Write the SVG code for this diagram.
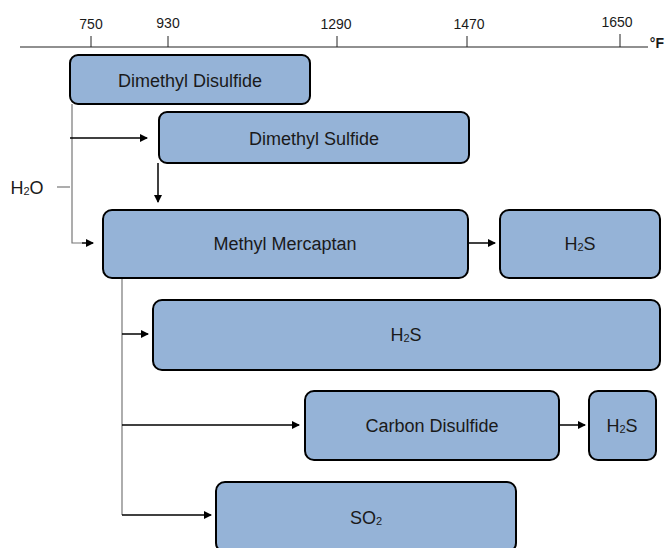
<svg xmlns="http://www.w3.org/2000/svg" width="665" height="548" viewBox="0 0 665 548">
<style>
.box{fill:#95b3d7;stroke:#000;stroke-width:2}
.lbl{font-family:"Liberation Sans",Arial,sans-serif;font-size:18px;fill:#1a1a1a;text-anchor:middle}
.ax{font-family:"Liberation Sans",Arial,sans-serif;font-size:14px;fill:#1a1a1a;text-anchor:middle}
.sub{font-size:11px}
.c{stroke:#000;stroke-width:1.5;fill:none}
.g{stroke:#777;stroke-width:1.2;fill:none}
</style>
<defs>
<marker id="ah" markerWidth="8" markerHeight="8" refX="7" refY="4" orient="auto" markerUnits="userSpaceOnUse">
<path d="M0,0 L8,4 L0,8 Z" fill="#000"/>
</marker>
</defs>
<rect width="665" height="548" fill="#fff"/>
<g id="axis">
<line x1="20" y1="47" x2="648" y2="47" stroke="#222" stroke-width="1.2"/>
<g stroke="#222" stroke-width="1">
<line x1="91" y1="36" x2="91" y2="47"/>
<line x1="168" y1="36" x2="168" y2="47"/>
<line x1="337" y1="36" x2="337" y2="47"/>
<line x1="467" y1="36" x2="467" y2="47"/>
<line x1="620" y1="34" x2="620" y2="47"/>
</g>
<text class="ax" x="91" y="29">750</text>
<text class="ax" x="168" y="28">930</text>
<text class="ax" x="336" y="29">1290</text>
<text class="ax" x="469" y="29">1470</text>
<text class="ax" x="617" y="27">1650</text>
<text class="ax" x="664" y="48" font-weight="bold" style="text-anchor:end">°F</text>
</g>
<g id="connectors">
<polyline class="g" points="72,104 72,243 82,243"/>
<line class="c" x1="82" y1="243" x2="93" y2="243" marker-end="url(#ah)"/>
<line class="c" x1="70" y1="138" x2="147" y2="138" marker-end="url(#ah)"/>
<line class="g" x1="57" y1="187" x2="70" y2="187"/>
<line class="c" x1="158" y1="163" x2="158" y2="202" marker-end="url(#ah)"/>
<line class="c" x1="468" y1="243" x2="495" y2="243" marker-end="url(#ah)"/>
<line class="g" x1="122" y1="278" x2="122" y2="515"/>
<line class="c" x1="122" y1="334" x2="148" y2="334" marker-end="url(#ah)"/>
<line class="c" x1="122" y1="425" x2="299" y2="425" marker-end="url(#ah)"/>
<line class="c" x1="122" y1="515" x2="211" y2="515" marker-end="url(#ah)"/>
<line class="c" x1="559" y1="425" x2="585" y2="425" marker-end="url(#ah)"/>
</g>
<g id="h2o"><text class="lbl" x="27" y="194">H<tspan class="sub" dy="1">2</tspan><tspan dy="-1">O</tspan></text></g>
<g id="dmds"><rect class="box" x="70" y="55" width="240" height="49" rx="8"/><text class="lbl" x="190" y="87">Dimethyl Disulfide</text></g>
<g id="dms"><rect class="box" x="159" y="112" width="310" height="51" rx="8"/><text class="lbl" x="314" y="145">Dimethyl Sulfide</text></g>
<g id="mm"><rect class="box" x="103" y="210" width="365" height="68" rx="9"/><text class="lbl" x="285" y="250">Methyl Mercaptan</text></g>
<g id="h2s1"><rect class="box" x="500" y="210" width="160" height="68" rx="9"/><text class="lbl" x="580" y="250">H<tspan class="sub" dy="1">2</tspan><tspan dy="-1">S</tspan></text></g>
<g id="h2s2"><rect class="box" x="153" y="300" width="507" height="70" rx="9"/><text class="lbl" x="406" y="341">H<tspan class="sub" dy="1">2</tspan><tspan dy="-1">S</tspan></text></g>
<g id="cs2"><rect class="box" x="305" y="391" width="254" height="69" rx="9"/><text class="lbl" x="432" y="432">Carbon Disulfide</text></g>
<g id="h2s3"><rect class="box" x="589" y="391" width="67" height="69" rx="9"/><text class="lbl" x="622" y="432">H<tspan class="sub" dy="1">2</tspan><tspan dy="-1">S</tspan></text></g>
<g id="so2"><rect class="box" x="216" y="482" width="300" height="70" rx="9"/><text class="lbl" x="366" y="524">SO<tspan class="sub" dy="1">2</tspan></text></g>
</svg>
